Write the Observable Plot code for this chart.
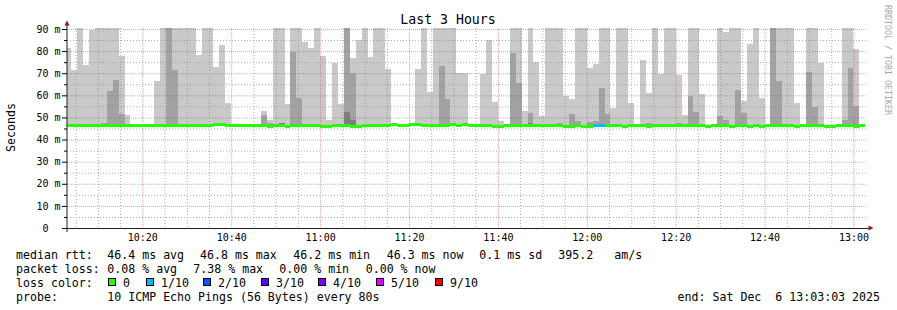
<!DOCTYPE html>
<html>
<head>
<meta charset="utf-8">
<script src="https://cdn.jsdelivr.net/npm/d3@7"></script>
<script src="https://cdn.jsdelivr.net/npm/@observablehq/plot@0.6"></script>
<style>
  html, body { margin: 0; padding: 0; background: #ffffff; }
  #chart svg { display: block; }
</style>
</head>
<body>
<div id="chart"></div>
<script>
// ---------------- data ----------------
const chartTitle = "Last 3 Hours";
const yAxisTitle = "Seconds";
const rangeStart = "2025-12-06T10:03:03Z";
const rangeEnd = "2025-12-06T13:03:03Z";
const firstStepStart = "2025-12-06T10:02:40Z";
const stepSeconds = 80;

// upper edge of the light smoke (slowest ping), ms (91 = beyond top of chart)
const smokeMax = [
  81.4, 71.5, 91, 73.7, 89.5, 91, 91, 91, 91, 77.8,
  51.1, 47.2, 47.2, null, null, 66.5, 91, 91, 91, 91,
  91, 91, 78.2, 91, 91, 72.8, 82.8, 56.5, null, 47.2,
  47.2, null, null, 52.9, 48.8, 91, 91, 56.0, 91, 91,
  84.1, 81.4, 91, 77.8, 48.8, 74.6, 56.1, 91, 76.9, 85.0,
  91, 77.3, 91, 91, 71.9, 47.2, null, null, null, 71.9,
  91, 61.5, 91, 91, 91, 91, 70.1, 70.1, null, null,
  69.6, 85.0, 57.0, 48.4, 47.2, 91, 91, 52.9, 91, 75.1,
  50.7, 91, 91, 91, 59.7, 58.3, 91, 91, 72.4, 74.2,
  91, 91, 54.3, 91, 91, 56.5, null, 76.0, 61.1, 91,
  69.6, 91, 91, 69.2, 51.1, 91, 91, 60.6, null, null,
  91, 88.6, 91, 91, 57.4, 83.2, 91, 58.8, null, 91,
  91, 91, 91, 56.5, null, 91, 91, 74.6, null, null,
  null, 91, 91, 81.0, null
];
// upper edge of the medium smoke band, ms
const smokeMid = [
  null, null, null, null, null, null, 47.3, 62.0, 66.9, 51.6,
  null, null, null, null, null, null, null, 91, 71.5, null,
  null, null, null, null, null, null, null, null, null, null,
  null, null, null, 51.1, 47.5, null, 47.5, null, 79.6, 58.8,
  null, null, null, null, null, null, null, 91, 70.1, null,
  null, null, null, null, null, null, null, null, null, null,
  null, null, null, 73.3, 58.3, 47.5, null, null, null, null,
  null, null, null, null, null, 79.1, 65.6, null, 52.0, null,
  null, null, null, 47.3, null, 51.6, 48.4, null, 48.0, 48.4,
  63.3, 51.6, null, null, null, null, null, null, 47.3, null,
  null, null, null, 47.3, null, 59.7, 52.5, null, null, null,
  50.7, 48.8, null, 62.4, 52.0, null, null, null, null, 91,
  66.5, null, null, null, null, 70.6, 54.7, null, null, null,
  null, 48.8, 72.4, 55.2, null
];
// upper edge of the dark smoke core, ms
const smokeCore = [
  null, null, null, null, null, null, null, null, null, null,
  null, null, null, null, null, null, null, null, null, null,
  null, null, null, null, null, null, null, null, null, null,
  null, null, null, null, null, null, 47.6, null, null, null,
  null, null, null, null, null, null, null, 52.5, 48.8, null,
  null, null, null, null, null, null, null, null, null, null,
  null, null, null, null, null, 47.6, null, null, null, null,
  null, null, null, null, null, null, null, null, 47.6, null,
  null, null, null, null, null, null, null, null, null, null,
  null, null, null, null, null, null, null, null, null, null,
  null, null, null, null, null, null, null, null, null, null,
  null, null, null, null, null, null, null, null, null, null,
  null, null, null, null, null, null, null, null, null, null,
  null, null, null, null, null
];
// median round trip time, ms
const medianRtt = [
  46.2, 46.2, 46.2, 46.2, 46.2, 46.2, 46.2, 46.2, 46.2, 46.2,
  46.2, 46.2, 46.2, 46.2, 46.2, 46.2, 46.2, 46.2, 46.2, 46.2,
  46.2, 46.2, 46.2, 46.2, 46.2, 46.6, 46.6, 46.2, 46.2, 46.2,
  46.2, 46.2, 46.2, 46.2, 45.8, 46.2, 46.2, 45.8, 46.2, 46.2,
  46.2, 46.2, 46.2, 45.8, 45.8, 46.2, 46.2, 46.2, 45.8, 45.8,
  46.2, 46.2, 46.2, 46.2, 46.2, 46.6, 46.2, 46.2, 46.6, 46.6,
  46.2, 46.2, 46.2, 46.2, 46.2, 46.6, 46.2, 46.6, 46.2, 46.2,
  46.2, 46.2, 45.8, 45.8, 46.2, 46.2, 46.2, 46.2, 46.2, 46.2,
  46.2, 46.2, 46.2, 46.2, 45.8, 45.8, 46.2, 45.8, 45.8, 46.2,
  46.2, 46.2, 46.2, 46.2, 45.8, 46.2, 46.2, 46.2, 45.8, 46.2,
  46.2, 46.2, 46.2, 46.2, 46.2, 46.2, 46.2, 46.2, 45.8, 46.2,
  46.2, 46.2, 45.8, 46.2, 46.2, 45.8, 46.2, 45.8, 46.2, 46.2,
  46.2, 46.2, 46.2, 45.8, 46.2, 46.2, 46.2, 46.2, 45.8, 45.8,
  46.2, 46.2, 46.2, 45.8, 46.2
];
// lost pings out of 10
const lossTenths = [
  0,0,0,0,0,0,0,0,0,0, 0,0,0,0,0,0,0,0,0,0, 0,0,0,0,0,0,0,0,0,0,
  0,0,0,0,0,0,0,0,0,0, 0,0,0,0,0,0,0,0,0,0, 0,0,0,0,0,0,0,0,0,0,
  0,0,0,0,0,0,0,0,0,0, 0,0,0,0,0,0,0,0,0,0, 0,0,0,0,0,0,0,0,0,1,
  1,0,0,0,0,0,0,0,0,0, 0,0,0,0,0,0,0,0,0,0, 0,0,0,0,0,0,0,0,0,0,
  0,0,0,0,0,0,0,0,0,0, 0,0,0,0,0
];

const xTickLabels = ["10:20", "10:40", "11:00", "11:20", "11:40", "12:00", "12:20", "12:40", "13:00"];
const yTickValues = [0, 10, 20, 30, 40, 50, 60, 70, 80, 90];
const yTickLabels = ["0\u00a0\u00a0", "10 m", "20 m", "30 m", "40 m", "50 m", "60 m", "70 m", "80 m", "90 m"];
const lossLegendLabels = ["0", "1/10", "2/10", "3/10", "4/10", "5/10", "9/10"];
const lossLegendColors = ["#26ff00", "#00b8ff", "#0059ff", "#5e00ff", "#7e00ff", "#dd00ff", "#ff0000"];
const lossLegendTenths = [0, 1, 2, 3, 4, 5, 9];
const rowHeads = ["median rtt:", "packet loss:", "loss color:", "probe:"];
const rttStats = ["46.4 ms avg", "46.8 ms max", "46.2 ms min", "46.3 ms now", "0.1 ms sd", "395.2", "am/s"];
const lossStats = ["0.08 % avg", "7.38 % max", "0.00 % min", "0.00 % now"];
const probeText = "10 ICMP Echo Pings (56 Bytes) every 80s";
const endLabel = "end: Sat Dec  6 13:03:03 2025";
const watermark = "RRDTOOL / TOBI OETIKER";

// ---------------- layout ----------------
const rttStatX = [107.3, 200, 293.3, 386.7, 479.3, 558.3, 614.3];
const lossStatX = [107.3, 193.3, 279.3, 365.7];
const boxX = [108, 146, 203, 261, 318, 376, 435];
const legendBaselines = [258.5, 272.5, 286.5, 300.5];

// ---------------- build ----------------
const lossColorByTenths = new Map(lossLegendTenths.map((t, i) => [t, lossLegendColors[i]]));
const t0 = Date.parse(firstStepStart);
const steps = smokeMax.map((_, i) => ({
  start: new Date(t0 + i * stepSeconds * 1000),
  end: new Date(t0 + (i + 1) * stepSeconds * 1000),
  max: smokeMax[i], mid: smokeMid[i], core: smokeCore[i],
  median: medianRtt[i], loss: lossTenths[i]
}));
const domainStart = new Date(rangeStart), domainEnd = new Date(rangeEnd);
const xTicks = xTickLabels.map(l => new Date(`2025-12-06T${l}:00Z`));
const minorX = d3.utcMinute.every(5).range(domainStart, domainEnd).filter(d => d.getUTCMinutes() % 20 !== 0);
const minorY = d3.range(5, 90, 10);
const yLabel = new Map(yTickValues.map((v, i) => [v, yTickLabels[i]]));
const medianHalf = 0.68;
const mono = "'DejaVu Sans Mono', monospace";

const smokeOpts = (key, fill) => ({
  x1: "start", x2: "end", y1: "median", y2: key, fill,
  inset: 0, clip: true, shapeRendering: "crispEdges"
});

const chart = Plot.plot({
  width: 897, height: 310,
  marginTop: 28, marginRight: 30, marginBottom: 82, marginLeft: 67,
  style: {fontFamily: mono, fontSize: "10px", color: "#000", background: "#fff", overflow: "visible"},
  x: {type: "utc", domain: [domainStart, domainEnd]},
  y: {domain: [0, 90.45]},
  color: {type: "identity"},
  marks: [
    Plot.rect(steps.filter(d => d.max != null), smokeOpts("max", "#c9c9c9")),
    Plot.rect(steps.filter(d => d.mid != null), smokeOpts("mid", "#a2a2a2")),
    Plot.rect(steps.filter(d => d.core != null), smokeOpts("core", "#7e7e7e")),
    Plot.ruleY(minorY, {stroke: "#8f8f8f", strokeOpacity: 0.75, strokeDasharray: "1,2"}),
    Plot.ruleX(minorX, {stroke: "#8f8f8f", strokeOpacity: 0.75, strokeDasharray: "1,2"}),
    Plot.ruleY(yTickValues.filter(v => v > 0), {stroke: "#de4f4f", strokeOpacity: 0.55, strokeDasharray: "1,1"}),
    Plot.ruleX(xTicks, {stroke: "#de4f4f", strokeOpacity: 0.55, strokeDasharray: "1,1"}),
    Plot.rect(steps, {
      x1: "start", x2: "end",
      y1: d => d.median - medianHalf, y2: d => d.median + medianHalf,
      fill: d => lossColorByTenths.get(d.loss),
      inset: 0, clip: true, shapeRendering: "crispEdges"
    }),
    Plot.axisY({ticks: yTickValues, tickFormat: d => yLabel.get(d), tickSize: 5, tickPadding: 2, label: null}),
    Plot.axisY({ticks: minorY, tickFormat: () => "", tickSize: 3, label: null}),
    Plot.axisX({ticks: xTicks, tickFormat: d3.utcFormat("%H:%M"), tickSize: 0, tickPadding: 5, label: null})
  ]
});

document.getElementById("chart").appendChild(chart);

// ---------------- decorations (axes, arrows, titles, legend) ----------------
const svg = d3.select(chart);
const xs = chart.scale("x"), ys = chart.scale("y");
const x0 = xs.apply(domainStart), x1 = xs.apply(domainEnd);
const yBase = ys.apply(0), yTop = ys.apply(90.45);

const deco = svg.append("g");
deco.append("line").attr("x1", x0).attr("x2", x0).attr("y1", yBase + 4).attr("y2", yTop - 4)
  .attr("stroke", "#1f1f1f").attr("stroke-width", 1);
deco.append("line").attr("x1", x0 - 4).attr("x2", x1 + 4).attr("y1", yBase + 0.5).attr("y2", yBase + 0.5)
  .attr("stroke", "#1f1f1f").attr("stroke-width", 1);
deco.append("path")
  .attr("d", `M${x0 - 2.5},${yTop - 2.5}L${x0 + 2.5},${yTop - 2.5}L${x0},${yTop - 7.5}Z`)
  .attr("fill", "#801f1f");
deco.append("path")
  .attr("d", `M${x1 + 1.5},${yBase - 2.5}L${x1 + 1.5},${yBase + 2.5}L${x1 + 6.5},${yBase}Z`)
  .attr("fill", "#801f1f");

const txt = svg.append("g").attr("font-family", mono).attr("fill", "#000").attr("text-anchor", "start");
txt.append("text").attr("x", 448).attr("y", 24).attr("text-anchor", "middle")
  .attr("font-size", "13.2px").text(chartTitle);
txt.append("text").attr("transform", "translate(14.5,127.5) rotate(-90)").attr("text-anchor", "middle")
  .attr("font-size", "11.6px").text(yAxisTitle);
txt.append("text").attr("transform", "translate(884.5,5) rotate(90)").attr("text-anchor", "start")
  .attr("font-size", "8.3px").attr("fill", "#a8a8a8").text(watermark);

const leg = txt.append("g").attr("font-size", "11.6px").attr("text-anchor", "start");
const put = (x, y, s, anchor = "start") =>
  leg.append("text").attr("x", x).attr("y", y).attr("text-anchor", anchor)
    .attr("xml:space", "preserve").style("white-space", "pre").text(s);

rowHeads.forEach((h, i) => put(16, legendBaselines[i], h));
rttStats.forEach((s, i) => put(rttStatX[i], legendBaselines[0], s));
lossStats.forEach((s, i) => put(lossStatX[i], legendBaselines[1], s));
put(107.3, legendBaselines[3], probeText);
put(880, legendBaselines[3], endLabel, "end");

lossLegendLabels.forEach((lab, i) => {
  leg.append("rect").attr("x", boxX[i] + 0.5).attr("y", 278.5).attr("width", 7).attr("height", 7)
    .attr("fill", lossLegendColors[i]).attr("stroke", "#000").attr("stroke-width", 1);
  put(boxX[i] + 15, legendBaselines[2], lab);
});
</script>
</body>
</html>
